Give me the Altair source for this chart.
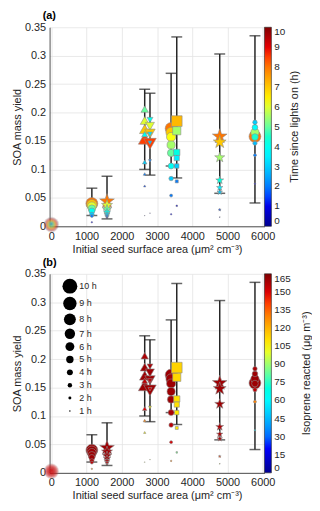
import altair as alt
import pandas as pd

FONT = "Liberation Sans"
INK = "#262626"

# ---------------- data ----------------
GROUP_X = [0, 1150, 1580, 2650, 2800, 3400, 3560, 4780, 5780]
GROUP_SHAPE = ["circle", "circle", "star", "up", "down", "circle", "square", "star", "circle"]
GROUP_ALPHA = [0.22, 1, 1, 1, 1, 1, 1, 1, 1]

TIMES = [
    [1, 2, 3, 4, 5, 6, 7, 8, 9, 10],
    [1, 2, 3, 4, 5, 6, 7, 8],
    [1, 2, 3, 4, 5, 6, 8],
    [0.5, 1.5, 2, 3, 4, 5, 6, 7, 8.5],
    [0.5, 2, 2.8, 3.3, 4, 6, 7, 8.5],
    [1, 2, 3, 4, 5, 5.5, 6.2, 7, 8],
    [1, 2, 3, 3.5, 4.2, 5.5, 7.2],
    [0.5, 1.5, 3, 3.5, 4.3, 5.5, 7, 8],
    [1, 2, 2.8, 3, 3.8, 4.5, 5.5, 8],
]
YIELDS = [
    [0.004, 0.004, 0.004, 0.003, 0.003, 0.003, 0.003, 0.003, 0.003, 0.003],
    [0.007, 0.018, 0.021, 0.027, 0.031, 0.035, 0.038, 0.040],
    [0.015, 0.018, 0.021, 0.025, 0.030, 0.037, 0.044],
    [0.019, 0.071, 0.092, 0.113, 0.162, 0.206, 0.186, 0.171, 0.154],
    [0.023, 0.115, 0.147, 0.162, 0.187, 0.176, 0.163, 0.145],
    [0.021, 0.054, 0.084, 0.106, 0.129, 0.143, 0.157, 0.165, 0.172],
    [0.036, 0.079, 0.106, 0.120, 0.130, 0.168, 0.185],
    [0.016, 0.029, 0.060, 0.068, 0.081, 0.121, 0.148, 0.158],
    [0.075, 0.125, 0.146, 0.183, 0.174, 0.157, 0.165, 0.158],
]
ISOPRENE = [
    [150, 150, 150, 150, 150, 150, 150, 150, 150, 150],
    [130, 155, 158, 160, 160, 160, 160, 160],
    [150, 155, 158, 160, 160, 160, 160],
    [100, 105, 130, 150, 155, 158, 160, 160, 160],
    [100, 105, 150, 155, 158, 160, 160, 160],
    [130, 150, 155, 158, 160, 160, 160, 160, 160],
    [85, 108, 108, 110, 110, 112, 113],
    [100, 140, 158, 158, 158, 160, 160, 160],
    [60, 130, 155, 158, 160, 160, 160, 160],
]

ERR_X = [1150, 1580, 2650, 2800, 3400, 3560, 4780, 5780]
ERR_LO = [0.019, 0.013, 0.100, 0.090, 0.106, 0.085, 0.058, 0.041]
ERR_HI = [0.067, 0.088, 0.241, 0.234, 0.269, 0.333, 0.303, 0.335]

X_TICKS = [0, 1000, 2000, 3000, 4000, 5000, 6000]
Y_TICKS = [0, 0.05, 0.1, 0.15, 0.2, 0.25, 0.3, 0.35]
TIME_TICKS = [0, 1, 2, 3, 4, 5, 6, 7, 8, 9, 10]
ISO_TICKS = [0, 15, 30, 45, 60, 75, 90, 105, 120, 135, 150, 165]
SIZE_LEGEND_HOURS = [10, 9, 8, 7, 6, 5, 4, 3, 2, 1]

X_TITLE = "Initial seed surface area (μm² cm⁻³)"
Y_TITLE = "SOA mass yield"
TIME_TITLE = "Time since lights on (h)"
ISO_TITLE = "Isoprene reacted (μg m⁻³)"

JET = ["#00008F", "#0000FF", "#00FFFF", "#FFFF00", "#FF0000", "#800000"]
JET_STOPS = [0, 0.125, 0.375, 0.625, 0.875, 1]

STAR = ("M0,-1.3L0.306,-0.421L1.236,-0.402L0.494,0.161L0.764,1.052L0,0.52"
        "L-0.764,1.052L-0.494,0.161L-1.236,-0.402L-0.306,-0.421Z")
SHAPE_DOMAIN = ["circle", "star", "up", "down", "square"]
SHAPE_RANGE = ["circle", STAR, "triangle-up", "triangle-down", "square"]

# ---------------- tables ----------------
rows = []
for gx, gs, ga, ts, ys, iso in zip(GROUP_X, GROUP_SHAPE, GROUP_ALPHA, TIMES, YIELDS, ISOPRENE):
    for t, y, c in zip(ts, ys, iso):
        rows.append({"x": gx, "y": y, "time": t, "iso": c, "shape": gs, "alpha": ga})
pts = pd.DataFrame(rows)
err = pd.DataFrame({"x": ERR_X, "lo": ERR_LO, "hi": ERR_HI})
caps = pd.DataFrame({"x": ERR_X + ERR_X, "y": ERR_LO + ERR_HI})

W, H = 217, 201


def xenc():
    return alt.X("x:Q", scale=alt.Scale(domain=[-50, 6050], nice=False, zero=False),
                 axis=alt.Axis(values=X_TICKS, format="d", title=X_TITLE))


def yenc(field):
    return alt.Y(f"{field}:Q", scale=alt.Scale(domain=[0, 0.35], nice=False),
                 axis=alt.Axis(values=Y_TICKS, format="~g", title=Y_TITLE))


size_scale = alt.Scale(type="pow", exponent=2, domain=[0, 10], range=[0, 225])


def panel(tag, cfield, cmax, cticks, ctitle, title_dx, size_legend):
    rules = alt.Chart(err).mark_rule(color=INK, strokeWidth=1.5).encode(
        x=xenc(), y=yenc("lo"), y2="hi:Q")
    capl = alt.Chart(caps).mark_tick(color=INK, orient="horizontal", size=11, thickness=1.5).encode(
        x=xenc(), y=yenc("y"))
    cscale = alt.Scale(domain=[s * cmax for s in JET_STOPS], range=JET)
    points = alt.Chart(pts).mark_point(filled=True, opacity=1, stroke="#8c8c8c", strokeWidth=0.6).encode(
        x=xenc(), y=yenc("y"),
        shape=alt.Shape("shape:N", scale=alt.Scale(domain=SHAPE_DOMAIN, range=SHAPE_RANGE), legend=None),
        size=alt.Size("time:Q", scale=size_scale, legend=size_legend),
        color=alt.Color(f"{cfield}:Q", scale=cscale,
                        legend=alt.Legend(orient="right", offset=0, padding=0, title=None,
                                          type="gradient", direction="vertical",
                                          gradientLength=H, gradientThickness=7,
                                          values=cticks, labelFont=FONT, labelFontSize=10,
                                          labelColor=INK, labelOffset=3, labelOverlap=False,
                                          labelBaseline="middle",
                                          gradientStrokeColor=INK, gradientStrokeWidth=0.6)),
        opacity=alt.Opacity("alpha:Q", scale=None, legend=None),
        order=alt.Order("time:Q", sort="descending"),
    )
    ttl = alt.Chart(pd.DataFrame({"t": [ctitle]})).mark_text(
        angle=270, font=FONT, fontSize=11, color=INK, align="center", baseline="middle"
    ).encode(x=alt.value(W + title_dx), y=alt.value(H / 2), text="t:N")
    return alt.layer(rules, capl, points, ttl).properties(
        width=W, height=H,
        title=alt.TitleParams(tag, anchor="start", frame="group", font=FONT, fontSize=11,
                              fontWeight="bold", color="black", dx=-7, offset=0))


size_leg = alt.Legend(orient="none", legendX=13, legendY=5, direction="vertical",
                      values=SIZE_LEGEND_HOURS, title=None, symbolType="circle",
                      symbolFillColor="black", symbolStrokeColor="black", symbolStrokeWidth=0,
                      symbolOpacity=1, labelExpr="datum.label + ' h'", labelFont=FONT,
                      labelFontSize=9, labelColor=INK, labelOffset=2, rowPadding=3)

pa = panel("(a)", "time", 10, TIME_TICKS, TIME_TITLE, 31, None)
pb = panel("(b)", "iso", 165, ISO_TICKS, ISO_TITLE, 43, size_leg)

chart = alt.vconcat(pa, pb, spacing=3).resolve_scale(
    color="independent", size="independent", shape="independent"
).resolve_legend(color="independent", size="independent").properties(
    padding={"left": 3, "top": 0, "right": 0, "bottom": 0}
).configure_view(stroke=None).configure_axis(
    labelFont=FONT, labelFontSize=11, labelColor=INK, titleFont=FONT, titleFontSize=11,
    titleColor=INK, titleFontWeight="normal", domainColor=INK, domainWidth=0.8,
    ticks=False, labelPadding=4, titlePadding=2, gridColor="#e3e3e3", gridWidth=0.8
)

chart.save("out.html", embed_options={"renderer": "svg", "actions": False})
